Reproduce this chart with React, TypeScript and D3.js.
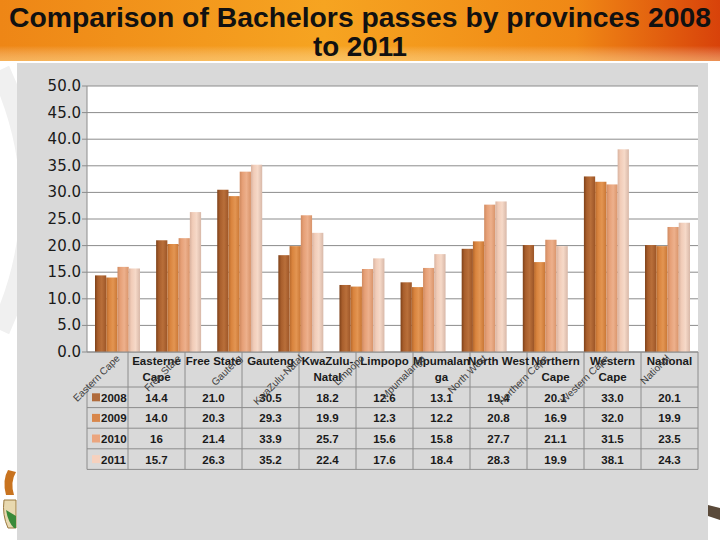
import React from "react";
import * as d3 from "d3";

const categories = ["Eastern Cape", "Free State", "Gauteng", "KwaZulu-Natal", "Limpopo", "Mpumalanga", "North West", "Northern Cape", "Western Cape", "National"];
const tableHeaders = [["Easterne", "Cape"], ["Free State"], ["Gauteng"], ["KwaZulu-", "Natal"], ["Limpopo"], ["Mpumalan", "ga"], ["North West"], ["Northern", "Cape"], ["Western", "Cape"], ["National"]];
const seriesNames = ["2008", "2009", "2010", "2011"];
const values2008 = [14.4, 21.0, 30.5, 18.2, 12.6, 13.1, 19.4, 20.1, 33.0, 20.1];
const values2009 = [14.0, 20.3, 29.3, 19.9, 12.3, 12.2, 20.8, 16.9, 32.0, 19.9];
const values2010 = [16, 21.4, 33.9, 25.7, 15.6, 15.8, 27.7, 21.1, 31.5, 23.5];
const values2011 = [15.7, 26.3, 35.2, 22.4, 17.6, 18.4, 28.3, 19.9, 38.1, 24.3];
const seriesValues = [values2008, values2009, values2010, values2011];
const seriesRawFormat = [false, false, true, false];
const yTicks = [0, 5, 10, 15, 20, 25, 30, 35, 40, 45, 50];

const barStops = [
  ["#7E4119", "#A85E2C", "#B96F3A", "#9C5527"],
  ["#B8692C", "#D9843E", "#E39552", "#C97634"],
  ["#D08A60", "#E6A077", "#EDB08C", "#D9946A"],
  ["#D9B3A0", "#F1CCB8", "#F6D9C8", "#D8B8A8"],
];
const legendColors = ["#B06A3A", "#D8864A", "#EBA57E", "#F6D1BE"];

export default function App() {
  const W = 720, H = 540;
  const plotL = 87, plotR = 698, plotT = 86, plotB = 352;
  const x0 = d3.scaleBand<string>().domain(categories).range([plotL, plotR]).paddingInner(0.264).paddingOuter(0.131);
  const x1 = d3.scaleBand<string>().domain(seriesNames).range([0, x0.bandwidth()]).padding(0);
  const y = d3.scaleLinear().domain([0, 50]).range([plotB, plotT]);
  const fmt = d3.format(".1f");

  const tableL = 87, firstColR = 128, tableR = 698;
  const colW = (tableR - firstColR) / categories.length;
  const headerB = 387;
  const rowH = 20.6;
  const tableB = headerB + rowH * seriesNames.length;
  const tableFont = "'Liberation Sans', Arial, sans-serif";
  const titleFont = "'Liberation Sans', Arial, sans-serif";

  return (
    <svg width={W} height={H} style={{ position: "absolute", left: 0, top: 0 }} xmlns="http://www.w3.org/2000/svg">
      <defs>
        <linearGradient id="hdr" x1="0" y1="0" x2="1" y2="0">
          <stop offset="0" stopColor="#EE8616" />
          <stop offset="0.45" stopColor="#F6A421" />
          <stop offset="0.8" stopColor="#F08815" />
          <stop offset="1" stopColor="#D8420A" />
        </linearGradient>
        <linearGradient id="hdrv" x1="0" y1="0" x2="0" y2="1">
          <stop offset="0" stopColor="#ffffff" stopOpacity="0" />
          <stop offset="0.75" stopColor="#ffffff" stopOpacity="0" />
          <stop offset="1" stopColor="#FFE0A0" stopOpacity="0.5" />
        </linearGradient>
        {barStops.map((s, i) => (
          <linearGradient key={i} id={`bar${i}`} x1="0" y1="0" x2="1" y2="0">
            <stop offset="0" stopColor={s[0]} />
            <stop offset="0.25" stopColor={s[1]} />
            <stop offset="0.6" stopColor={s[2]} />
            <stop offset="1" stopColor={s[3]} />
          </linearGradient>
        ))}
      </defs>
      <rect x={0} y={0} width={W} height={H} fill="#ffffff" />
      <path d="M 0 70 Q 60 200 0 330" fill="none" stroke="#F0F0F0" strokeWidth={20} />
      <rect x={0} y={0} width={W} height={61} fill="url(#hdr)" />
      <rect x={0} y={0} width={W} height={61} fill="url(#hdrv)" />
      <text x={360} y={27} textAnchor="middle" fontFamily={titleFont} fontWeight="bold" fontSize={28} fill="#111" textLength={702} lengthAdjust="spacingAndGlyphs">Comparison of Bachelors passes by provinces  2008</text>
      <text x={360} y={56} textAnchor="middle" fontFamily={titleFont} fontWeight="bold" fontSize={28} fill="#111" textLength={94} lengthAdjust="spacingAndGlyphs">to 2011</text>

      <rect x={17} y={63} width={691} height={477} fill="#D9D9D9" />
      {/* logo hint */}
      <g>
        <path d="M 8 470 Q 2 480 6 495 L 14 495 Q 10 482 16 472 Z" fill="#C8731F" />
        <path d="M 4 500 Q 2 515 8 528 L 16 528 L 16 500 Z" fill="#E8D9B0" stroke="#9A7A40" strokeWidth={1} />
        <path d="M 6 510 Q 8 522 14 528 L 16 528 L 16 516 Z" fill="#3A8A3A" />
        <path d="M 708 505 L 720 508 L 720 520 L 708 516 Z" fill="#5A4A3A" />
      </g>

      {/* plot area */}
      <rect x={plotL} y={plotT} width={plotR - plotL} height={plotB - plotT} fill="#ffffff" />
      {yTicks.map(t => (
        <g key={t}>
          <line x1={plotL} x2={plotR} y1={y(t)} y2={y(t)} stroke="#8C8C8C" strokeWidth={1} />
          <line x1={plotL - 5} x2={plotL} y1={y(t)} y2={y(t)} stroke="#8C8C8C" strokeWidth={1} />
          <text x={plotL - 6} y={y(t) + 5} textAnchor="end" fontFamily="'DejaVu Sans', Verdana, sans-serif" fontSize={15} fill="#1a1a1a">{fmt(t)}</text>
        </g>
      ))}
      <line x1={plotL} x2={plotL} y1={plotT} y2={plotB} stroke="#8C8C8C" strokeWidth={1} />

      {categories.map((c, ci) => (
        <g key={c}>
          {seriesNames.map((s, si) => {
            const v = seriesValues[si][ci];
            const bx = (x0(c) ?? 0) + (x1(s) ?? 0);
            return <rect key={s} x={bx} y={y(v)} width={x1.bandwidth()} height={plotB - y(v)} fill={`url(#bar${si})`} />;
          })}
        </g>
      ))}
      <line x1={plotL} x2={plotR} y1={plotB} y2={plotB} stroke="#8C8C8C" strokeWidth={1} />

      {/* data table */}
      <g fontFamily={tableFont} fill="#111">
        {d3.range(categories.length + 1).map(i => (
          <line key={i} x1={firstColR + i * colW} x2={firstColR + i * colW} y1={plotB} y2={tableB} stroke="#8C8C8C" strokeWidth={1} />
        ))}
        <line x1={tableL} x2={tableL} y1={headerB} y2={tableB} stroke="#8C8C8C" strokeWidth={1} />
        {d3.range(seriesNames.length + 1).map(r => (
          <line key={r} x1={tableL} x2={tableR} y1={headerB + r * rowH} y2={headerB + r * rowH} stroke="#8C8C8C" strokeWidth={1} />
        ))}
        {tableHeaders.map((h, ci) => (
          <text key={ci} x={firstColR + (ci + 0.5) * colW} textAnchor="middle" fontSize={11.5} fontWeight="bold" fill="#1a1a1a">
            {h.map((line, li) => (
              <tspan key={li} x={firstColR + (ci + 0.5) * colW} y={365 + li * 15.5}>{line}</tspan>
            ))}
          </text>
        ))}
        {seriesNames.map((s, si) => (
          <g key={s}>
            <rect x={92} y={headerB + si * rowH + rowH / 2 - 4} width={8} height={8} fill={legendColors[si]} />
            <text x={101} y={headerB + si * rowH + rowH / 2 + 4.5} fontSize={11.5} fontWeight="bold" fill="#1a1a1a">{s}</text>
            {seriesValues[si].map((v, ci) => (
              <text key={ci} x={firstColR + (ci + 0.5) * colW} y={headerB + si * rowH + rowH / 2 + 4.5} textAnchor="middle" fontSize={11.5} fontWeight="bold" fill="#1a1a1a">
                {seriesRawFormat[si] ? String(v) : fmt(v)}
              </text>
            ))}
          </g>
        ))}
      </g>

      {/* rotated category labels */}
      {categories.map(c => {
        const cx = (x0(c) ?? 0) + x0.bandwidth() / 2 + 3;
        return (
          <text key={c} transform={`translate(${cx},${plotB + 7}) rotate(-45)`} textAnchor="end" fontFamily="'Liberation Sans', Arial, sans-serif" fontSize={10} fill="#404040">{c}</text>
        );
      })}
    </svg>
  );
}
